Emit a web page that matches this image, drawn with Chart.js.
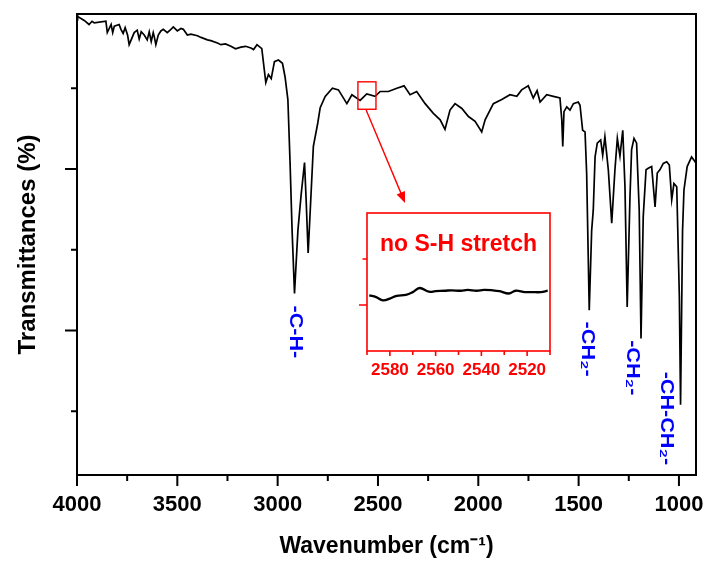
<!DOCTYPE html>
<html>
<head>
<meta charset="utf-8">
<script src="https://cdn.jsdelivr.net/npm/chart.js@4"></script>
<style>
  body { margin: 0; background: #fff; }
  #wrap { position: relative; width: 708px; height: 565px; }
  #main { position: absolute; left: 0; top: 0; }
  #inset { position: absolute; left: 330px; top: 200px; }
</style>
</head>
<body>
<div id="wrap">
  <canvas id="main" width="708" height="565"></canvas>
  <canvas id="inset" width="240" height="190"></canvas>
</div>
<script>
// FTIR spectrum (wavenumber in cm-1, transmittance in arbitrary %)
const wavenumber = [
  4000, 3997, 3964, 3940, 3925, 3914, 3856, 3849, 3830, 3822, 3814, 3790, 3781, 3770, 3760, 3748,
  3740, 3715, 3700, 3690, 3680, 3665, 3650, 3640, 3630, 3620, 3615, 3607, 3595, 3582, 3570, 3550,
  3532, 3520, 3500, 3482, 3470, 3450, 3432, 3400, 3382, 3350, 3333, 3300, 3283, 3260, 3233, 3210,
  3183, 3160, 3133, 3120, 3103, 3079, 3059, 3046, 3032, 3016, 2996, 2976, 2963, 2949, 2938, 2928,
  2916, 2899, 2883, 2866, 2858, 2848, 2835, 2822, 2800, 2788, 2763, 2727, 2697, 2655, 2630, 2589,
  2556, 2514, 2489, 2448, 2406, 2370, 2340, 2307, 2265, 2224, 2190, 2166, 2141, 2116, 2082, 2049,
  2016, 1983, 1966, 1925, 1883, 1842, 1808, 1784, 1751, 1726, 1707, 1692, 1659, 1626, 1593, 1584,
  1579, 1573, 1559, 1543, 1526, 1502, 1493, 1480, 1468, 1460, 1447, 1435, 1427, 1418, 1407, 1390,
  1380, 1369, 1352, 1335, 1319, 1307, 1294, 1280, 1269, 1258, 1244, 1236, 1224, 1211, 1198, 1189,
  1178, 1164, 1153, 1136, 1119, 1108, 1095, 1078, 1061, 1048, 1036, 1025, 1011, 998, 992, 982,
  975, 959, 937, 925, 915
];
const transmittance = [
  79.1, 78.9, 78.4, 77.9, 78.3, 78.1, 78.3, 76.9, 77.9, 76.9, 77.7, 77.9, 77.3, 76.8, 77.5, 76.6,
  75.4, 76.9, 77.2, 76.1, 77.0, 76.6, 76.0, 77.0, 75.8, 76.9, 76.4, 75.4, 76.6, 77.1, 77.3, 76.9,
  77.3, 77.6, 77.1, 77.4, 77.3, 76.6, 76.7, 76.5, 76.3, 76.0, 75.9, 75.6, 75.4, 75.5, 75.2, 74.9,
  75.1, 75.2, 75.0, 74.8, 75.4, 74.9, 70.7, 71.7, 71.2, 73.3, 73.5, 73.1, 71.4, 68.6, 60.7, 52.4,
  44.6, 52.4, 56.8, 60.8, 56.2, 49.6, 56.2, 62.8, 65.7, 67.6, 69.0, 70.0, 69.8, 68.1, 69.2, 68.5,
  69.3, 69.0, 69.6, 69.6, 70.0, 70.3, 69.2, 69.6, 68.1, 66.9, 66.1, 64.9, 67.3, 68.1, 67.5, 66.5,
  65.9, 64.6, 66.1, 68.1, 68.6, 69.2, 69.0, 69.8, 70.3, 68.8, 69.7, 68.3, 69.2, 69.0, 68.8, 66.1,
  62.8, 67.1, 67.7, 67.3, 68.1, 68.3, 67.9, 64.8, 64.6, 59.5, 42.5, 52.4, 54.9, 61.5, 63.2, 63.6,
  61.7, 64.0, 59.9, 53.3, 59.9, 63.8, 61.6, 64.8, 57.8, 42.9, 56.6, 62.4, 63.8, 63.2, 54.9, 39.0,
  54.1, 59.9, 60.1, 60.3, 55.3, 59.5, 59.9, 60.7, 60.9, 60.5, 56.2, 58.2, 57.8, 44.2, 30.8, 52.4,
  57.4, 60.3, 61.5, 61.1, 60.7
];

// inset: zoom on the S-H stretch region
const insetWavenumber = [
  2589, 2586, 2583, 2580, 2577, 2573, 2570, 2567, 2563, 2560, 2556, 2553, 2549, 2546,
  2542, 2539, 2535, 2532, 2528, 2525, 2521, 2518, 2514, 2511
];
const insetSignal = [
  1.21, 1.17, 1.10, 1.14, 1.20, 1.22, 1.28, 1.37, 1.29, 1.30, 1.31, 1.32, 1.31, 1.33,
  1.31, 1.33, 1.32, 1.30, 1.25, 1.31, 1.28, 1.28, 1.28, 1.31
];

const xTicks = [4000, 3500, 3000, 2500, 2000, 1500, 1000];
const xMinorTicks = [3750, 3250, 2750, 2250, 1750, 1250];
const yMajorTicks = [40, 60];
const yMinorTicks = [30, 50, 70];

const insetXTicks = [2580, 2560, 2540, 2520];
const insetXMinorTicks = [2590, 2570, 2550, 2530, 2510];
const insetYMajorTicks = [1];
const insetYMinorTicks = [2];

// peak labels (wavenumber, value at top of text)
const peakLabels = ['-C-H-', '-CH\u2082-', '-CH\u2082-', '-CH-CH\u2082-'];
const peakLabelWn = [2913, 1460, 1236, 1067];
const peakLabelTop = [43.1, 41.1, 38.8, 34.9];

const FONT = "'Liberation Sans', Arial, sans-serif";
const RED = '#ff0000';
const BLUE = '#0000ff';

const mainDecor = {
  id: 'mainDecor',
  afterDatasetsDraw(chart) {
    const { ctx, chartArea: a, scales: { x, y } } = chart;
    ctx.save();
    // frame
    ctx.strokeStyle = '#000';
    ctx.lineWidth = 2;
    ctx.strokeRect(a.left, a.top, a.right - a.left, a.bottom - a.top);
    // tick marks
    ctx.beginPath();
    xTicks.forEach(v => { const p = x.getPixelForValue(v); ctx.moveTo(p, a.bottom); ctx.lineTo(p, a.bottom + 11); });
    xMinorTicks.forEach(v => { const p = x.getPixelForValue(v); ctx.moveTo(p, a.bottom); ctx.lineTo(p, a.bottom + 6); });
    yMajorTicks.forEach(v => { const p = y.getPixelForValue(v); ctx.moveTo(a.left, p); ctx.lineTo(a.left - 12, p); });
    yMinorTicks.forEach(v => { const p = y.getPixelForValue(v); ctx.moveTo(a.left, p); ctx.lineTo(a.left - 6, p); });
    ctx.stroke();

    // red box around 2600-2510 and arrow to inset
    ctx.strokeStyle = RED;
    ctx.fillStyle = RED;
    ctx.lineWidth = 1.4;
    const bx1 = x.getPixelForValue(2600), bx2 = x.getPixelForValue(2510);
    const by1 = y.getPixelForValue(70.8), by2 = y.getPixelForValue(67.4);
    ctx.strokeRect(bx1, by1, bx2 - bx1, by2 - by1);
    const sx = x.getPixelForValue(2559), sy = y.getPixelForValue(67.3);
    const ex = x.getPixelForValue(2365), ey = y.getPixelForValue(55.8);
    const ang = Math.atan2(ey - sy, ex - sx);
    ctx.beginPath();
    ctx.moveTo(sx, sy);
    ctx.lineTo(ex - 9 * Math.cos(ang), ey - 9 * Math.sin(ang));
    ctx.stroke();
    ctx.beginPath();
    ctx.moveTo(ex, ey);
    ctx.lineTo(ex - 11 * Math.cos(ang) + 4.5 * Math.sin(ang), ey - 11 * Math.sin(ang) - 4.5 * Math.cos(ang));
    ctx.lineTo(ex - 11 * Math.cos(ang) - 4.5 * Math.sin(ang), ey - 11 * Math.sin(ang) + 4.5 * Math.cos(ang));
    ctx.closePath();
    ctx.fill();

    // peak labels, rotated
    ctx.fillStyle = BLUE;
    ctx.font = 'bold 18px ' + FONT;
    ctx.textAlign = 'left';
    ctx.textBaseline = 'middle';
    peakLabels.forEach((t, i) => {
      ctx.save();
      ctx.translate(x.getPixelForValue(peakLabelWn[i]), y.getPixelForValue(peakLabelTop[i]));
      ctx.rotate(Math.PI / 2);
      ctx.scale(1.2, 1);
      ctx.fillText(t, 0, 0);
      ctx.restore();
    });
    ctx.restore();
  }
};

new Chart(document.getElementById('main'), {
  type: 'line',
  data: {
    datasets: [{
      data: wavenumber.map((w, i) => ({ x: w, y: transmittance[i] })),
      borderColor: '#000',
      borderWidth: 1.7,
      pointRadius: 0,
      tension: 0,
      fill: false
    }]
  },
  options: {
    responsive: false,
    animation: false,
    layout: { padding: { left: 0, right: 12, top: 14, bottom: 0 } },
    plugins: { legend: { display: false }, tooltip: { enabled: false } },
    scales: {
      x: {
        type: 'linear',
        reverse: true,
        min: 915,
        max: 4000,
        afterBuildTicks: s => { s.ticks = xTicks.map(v => ({ value: v })); },
        afterFit: s => { s.height = 90; s.paddingLeft = 0; s.paddingRight = 0; },
        ticks: {
          color: '#000', font: { family: FONT, size: 22, weight: 'bold' }, padding: 17,
          maxRotation: 0, autoSkip: false, callback: v => String(v)
        },
        grid: { drawOnChartArea: false, drawTicks: false, color: 'rgba(0,0,0,0)' },
        border: { display: false },
        title: { display: true, text: 'Wavenumber (cm\u207B\u00B9)', color: '#000', font: { family: FONT, size: 23, weight: 'bold' }, padding: { top: 0, bottom: 5 } }
      },
      y: {
        min: 22.1,
        max: 79.2,
        afterFit: s => { s.width = 77; },
        ticks: { display: false },
        grid: { drawOnChartArea: false, drawTicks: false, color: 'rgba(0,0,0,0)' },
        border: { display: false },
        title: { display: true, text: 'Transmittances (%)', color: '#000', font: { family: FONT, size: 24, weight: 'bold' }, padding: { top: 14, bottom: 0 } }
      }
    }
  },
  plugins: [mainDecor]
});

const insetDecor = {
  id: 'insetDecor',
  afterDatasetsDraw(chart) {
    const { ctx, chartArea: a, scales: { x, y } } = chart;
    ctx.save();
    ctx.strokeStyle = RED;
    ctx.lineWidth = 1.6;
    ctx.strokeRect(a.left, a.top, a.right - a.left, a.bottom - a.top);
    ctx.beginPath();
    insetXTicks.forEach(v => { const p = x.getPixelForValue(v); ctx.moveTo(p, a.bottom); ctx.lineTo(p, a.bottom + 5); });
    insetXMinorTicks.forEach(v => { const p = x.getPixelForValue(v); ctx.moveTo(p, a.bottom); ctx.lineTo(p, a.bottom + 4); });
    insetYMajorTicks.forEach(v => { const p = y.getPixelForValue(v); ctx.moveTo(a.left, p); ctx.lineTo(a.left - 8, p); });
    insetYMinorTicks.forEach(v => { const p = y.getPixelForValue(v); ctx.moveTo(a.left, p); ctx.lineTo(a.left - 4.5, p); });
    ctx.stroke();
    ctx.fillStyle = RED;
    ctx.font = 'bold 23px ' + FONT;
    ctx.textAlign = 'center';
    ctx.textBaseline = 'middle';
    ctx.fillText('no S-H stretch', x.getPixelForValue(2550), y.getPixelForValue(2.32));
    ctx.restore();
  }
};

new Chart(document.getElementById('inset'), {
  type: 'line',
  data: {
    datasets: [{
      data: insetWavenumber.map((w, i) => ({ x: w, y: insetSignal[i] })),
      borderColor: '#000',
      borderWidth: 2.3,
      pointRadius: 0,
      tension: 0.4,
      fill: false
    }]
  },
  options: {
    responsive: false,
    animation: false,
    layout: { padding: { left: 0, right: 20, top: 13, bottom: 0 } },
    plugins: { legend: { display: false }, tooltip: { enabled: false } },
    scales: {
      x: {
        type: 'linear',
        reverse: true,
        min: 2510,
        max: 2590,
        afterBuildTicks: s => { s.ticks = insetXTicks.map(v => ({ value: v })); },
        afterFit: s => { s.height = 39; s.paddingLeft = 0; s.paddingRight = 0; },
        ticks: {
          color: RED, font: { family: FONT, size: 17, weight: 'bold' }, padding: 9,
          maxRotation: 0, autoSkip: false, callback: v => String(v)
        },
        grid: { drawOnChartArea: false, drawTicks: false, color: 'rgba(0,0,0,0)' },
        border: { display: false }
      },
      y: {
        min: 0,
        max: 3,
        afterFit: s => { s.width = 37; },
        ticks: { display: false },
        grid: { drawOnChartArea: false, drawTicks: false, color: 'rgba(0,0,0,0)' },
        border: { display: false }
      }
    }
  },
  plugins: [insetDecor]
});
</script>
</body>
</html>
